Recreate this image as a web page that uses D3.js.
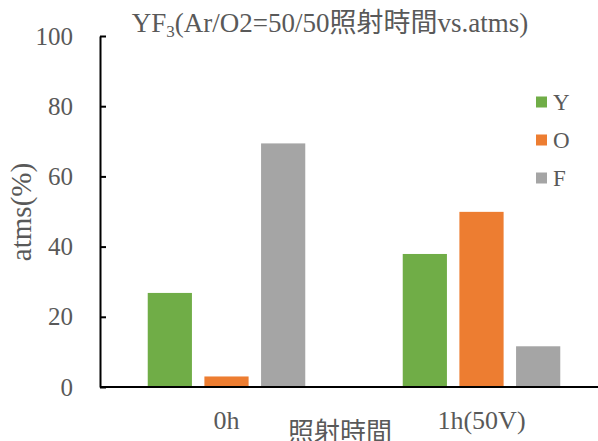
<!DOCTYPE html>
<html>
<head>
<meta charset="utf-8">
<script src="https://cdn.jsdelivr.net/npm/d3@7"></script>
<style>
  html, body { margin: 0; padding: 0; background: #fff; }
  svg { display: block; }
  text { font-family: "Liberation Serif", "Times New Roman", "Noto Sans CJK TC", serif; fill: #595959; }
</style>
</head>
<body>
<svg id="chart" width="598" height="441"></svg>
<script>
// Irradiation time groups and element series (atomic %)
const categories = ["0h", "1h(50V)"];
const series = ["Y", "O", "F"];
const valuesY = [26.8, 37.9];
const valuesO = [3.0, 49.9];
const valuesF = [69.4, 11.6];
const yTicks = [0, 20, 40, 60, 80, 100];
const colors = ["#70AD47", "#ED7D31", "#A5A5A5"];

const seriesValues = [valuesY, valuesO, valuesF];
const rows = categories.map((c, i) => ({
  cat: c,
  vals: series.map((s, k) => ({ key: s, value: seriesValues[k][i], color: colors[k] }))
}));

const svg = d3.select("#chart");
const W = 598, H = 441;
svg.append("rect").attr("width", W).attr("height", H).attr("fill", "#fff");

const plotLeft = 100, plotBottom = 387, plotTop = 36;

const x0 = d3.scaleBand().domain(categories).range([99, 609]).padding(0);
const x1 = d3.scaleBand().domain(series).range([0, x0.bandwidth()])
  .paddingInner(0.22).paddingOuter(0.86);
const y = d3.scaleLinear().domain([0, 100]).range([plotBottom, plotTop]);

// Bars
const groups = svg.append("g").selectAll("g").data(rows).join("g")
  .attr("transform", d => `translate(${x0(d.cat)},0)`);
groups.selectAll("rect").data(d => d.vals).join("rect")
  .attr("x", d => x1(d.key))
  .attr("y", d => y(d.value))
  .attr("width", x1.bandwidth())
  .attr("height", d => y(0) - y(d.value))
  .attr("fill", d => d.color);

// Y axis with inward ticks
const yAxis = svg.append("g")
  .attr("transform", `translate(${plotLeft},0)`)
  .call(d3.axisLeft(y).tickValues(yTicks).tickFormat(d3.format("d"))
    .tickSizeInner(-6).tickSizeOuter(0).tickPadding(27));
yAxis.select(".domain").attr("stroke", "#000").attr("stroke-width", 2);
yAxis.selectAll(".tick line").attr("stroke", "#000").attr("stroke-width", 2);
yAxis.selectAll(".tick text").attr("font-size", 25)
  .style("font-family", '"Liberation Serif", serif').attr("fill", "#595959");

// X axis
const xAxis = svg.append("g")
  .attr("transform", `translate(0,${plotBottom})`)
  .call(d3.axisBottom(x0).tickSize(0).tickPadding(24));
xAxis.select(".domain").attr("d", `M${plotLeft},0H${W}`)
  .attr("stroke", "#000").attr("stroke-width", 2);
xAxis.selectAll(".tick text").attr("font-size", 26)
  .style("font-family", '"Liberation Serif", serif').attr("fill", "#595959");

// Axis titles
svg.append("text")
  .attr("transform", "translate(31,212) rotate(-90)")
  .attr("text-anchor", "middle")
  .attr("font-size", 29)
  .text("atms(%)");

svg.append("text")
  .attr("x", 340).attr("y", 441)
  .attr("text-anchor", "middle")
  .attr("font-size", 26)
  .style("font-family", '"Noto Sans CJK TC", sans-serif')
  .text("照射時間");

// Chart title with subscript
const title = svg.append("text")
  .attr("x", 330).attr("y", 32)
  .attr("text-anchor", "middle")
  .attr("font-size", 27);
title.append("tspan").text("YF");
title.append("tspan").attr("font-size", 17).attr("dy", 5).text("3");
title.append("tspan").attr("dy", -5).text("(Ar/O2=50/50");
title.append("tspan").style("font-family", '"Noto Sans CJK TC", sans-serif').text("照射時間");
title.append("tspan").text("vs.atms)");

// Legend
const legend = svg.append("g").selectAll("g").data(series).join("g")
  .attr("transform", (d, i) => `translate(536,${102 + i * 38})`);
legend.append("rect")
  .attr("x", 0).attr("y", -5.5).attr("width", 11).attr("height", 11)
  .attr("fill", (d, i) => colors[i]);
legend.append("text")
  .attr("x", 17).attr("y", 8)
  .attr("font-size", 23)
  .text(d => d);
</script>
</body>
</html>
